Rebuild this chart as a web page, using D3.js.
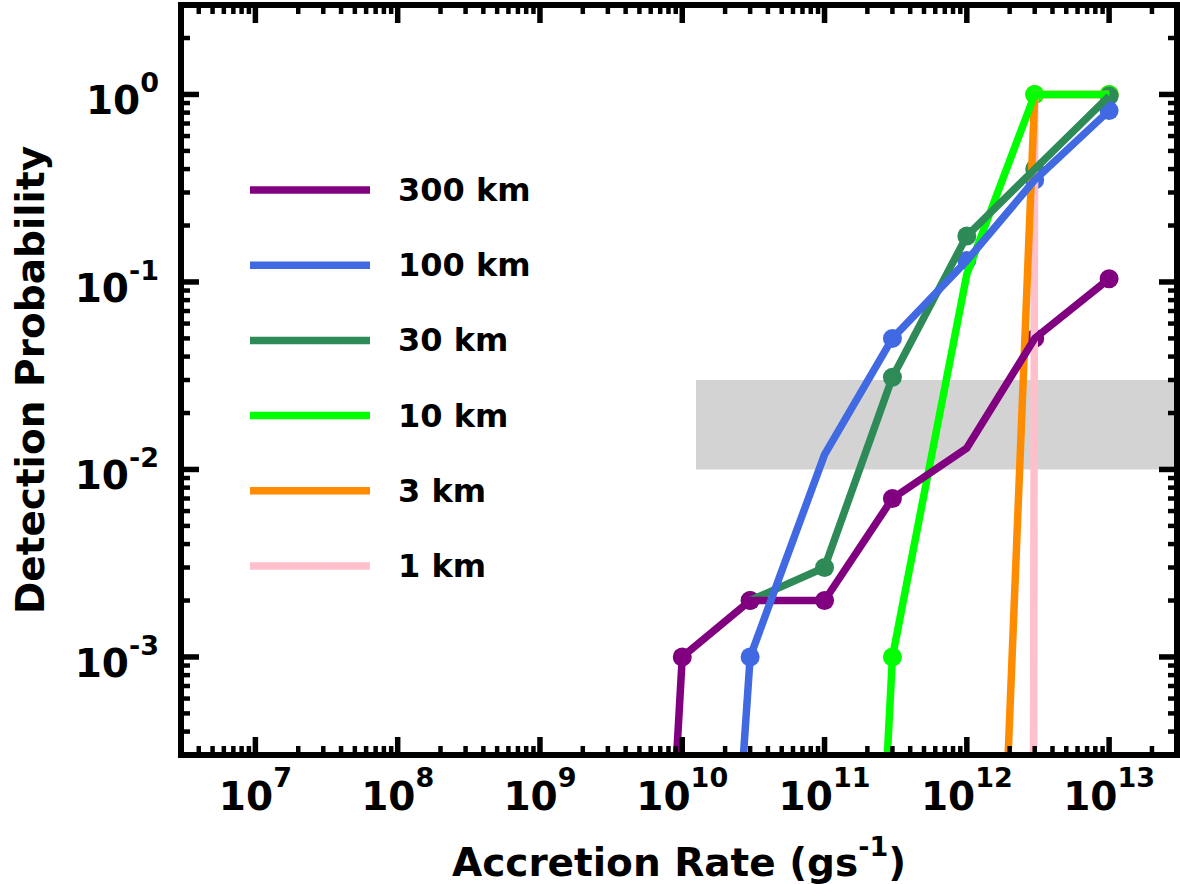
<!DOCTYPE html>
<html>
<head>
<meta charset="utf-8">
<script src="https://cdn.jsdelivr.net/npm/d3@7"></script>
<style>
  html, body { margin: 0; padding: 0; background: #fff; }
  svg { display: block; font-family: "DejaVu Sans", sans-serif; font-weight: bold; }
</style>
</head>
<body>
<svg id="chart" width="1180" height="884"></svg>
<script>
// ---------------- data ----------------
const seriesNames = ["300 km", "100 km", "30 km", "10 km", "3 km", "1 km"];
const seriesColors = ["#800080", "#4169e1", "#2e8b57", "#00ff00", "#ff8c00", "#ffc0cb"];

const x300 = [3e9, 1e10, 3e10, 1e11, 3e11, 1e12, 3e12, 1e13];
const y300 = [1e-10, 1e-3, 2e-3, 2e-3, 7e-3, 1.3e-2, 5e-2, 1.04e-1];
const m300 = [0, 1, 1, 1, 1, 0, 1, 1];

const x100 = [1e10, 3e10, 1e11, 3e11, 1e12, 3e12, 1e13];
const y100 = [5e-9, 1e-3, 1.2e-2, 5e-2, 1.3e-1, 3.5e-1, 8.2e-1];
const m100 = [0, 1, 0, 1, 1, 1, 1];

const x30 = [3e10, 1e11, 3e11, 1e12, 3e12, 1e13];
const y30 = [2e-3, 3e-3, 3.1e-2, 1.76e-1, 4.0e-1, 0.98];
const m30 = [1, 1, 1, 1, 1, 1];

const x10 = [1e11, 3e11, 1e12, 3e12, 1e13];
const y10 = [1e-10, 1e-3, 1.1e-1, 1, 1];
const m10 = [0, 1, 0, 1, 1];

const x3 = [1e12, 3e12, 1e13];
const y3 = [1e-9, 1, 1];
const m3 = [0, 1, 1];

const x1 = [1e12, 3e12, 1e13];
const y1 = [1e-200, 1, 1];
const m1 = [0, 0, 0];

const xTickExps = [7, 8, 9, 10, 11, 12, 13];
const yTickExps = [-3, -2, -1, 0];
const bandX = [1.25e10, 3e13];
const bandY = [0.01, 0.03];

const xLabelMain = "Accretion Rate (gs";
const xLabelSup = "-1";
const yLabel = "Detection Probability";

// ---------------- layout ----------------
const L = 181, R = 1177, T = 5, B = 755;
const svg = d3.select("#chart");

const x = d3.scaleLog().domain([3e6, 3e13]).range([L, R]);
const y = d3.scaleLog().domain([3e-4, 3]).range([B, T]);

svg.append("defs").append("clipPath").attr("id", "clip")
  .append("rect").attr("x", L).attr("y", T).attr("width", R - L).attr("height", B - T);

// gray band
svg.append("rect")
  .attr("x", x(bandX[0])).attr("y", y(bandY[1]))
  .attr("width", x(bandX[1]) - x(bandX[0]))
  .attr("height", y(bandY[0]) - y(bandY[1]))
  .attr("fill", "#d3d3d3");

const series = [
  { xs: x300, ys: y300, ms: m300 },
  { xs: x100, ys: y100, ms: m100 },
  { xs: x30, ys: y30, ms: m30 },
  { xs: x10, ys: y10, ms: m10 },
  { xs: x3, ys: y3, ms: m3 },
  { xs: x1, ys: y1, ms: m1 }
].map((s, i) => ({ ...s, name: seriesNames[i], color: seriesColors[i] }));

// drawing order (bottom to top): 1 km, 3 km, 10 km, 30 km, 300 km, 100 km
const drawOrder = [5, 4, 3, 2, 0, 1];

const plotG = svg.append("g").attr("clip-path", "url(#clip)");
const markerG = plotG.append("g");
const lineG = plotG.append("g");

const lineGen = d3.line().x(d => x(d[0])).y(d => y(d[1]));
const LW = 7.5;

drawOrder.forEach(i => {
  const s = series[i];
  const pts = s.xs.map((xv, k) => [xv, s.ys[k], s.ms[k]]);
  markerG.selectAll(null)
    .data(pts.filter(p => p[2]))
    .enter().append("circle")
    .attr("cx", d => x(d[0])).attr("cy", d => y(d[1]))
    .attr("r", 9.5).attr("fill", s.color);
  lineG.append("path")
    .attr("d", lineGen(pts))
    .attr("fill", "none")
    .attr("stroke", s.color)
    .attr("stroke-width", LW)
    .attr("stroke-linejoin", "round")
    .attr("stroke-linecap", "butt");
});

// ---------------- axes ----------------
const majLen = 18, minLen = 9;
const xMinor = [], yMinor = [];
for (let e = 6; e <= 13; e++) for (let m = 1; m <= 9; m++) {
  const v = m * Math.pow(10, e);
  if (m !== 1 && v >= 3e6 * 0.999 && v <= 3e13 * 1.001) xMinor.push(v);
}
for (let e = -4; e <= 0; e++) for (let m = 1; m <= 9; m++) {
  const v = m * Math.pow(10, e);
  if (m !== 1 && v >= 3e-4 * 0.999 && v <= 3 * 1.001) yMinor.push(v);
}
const xMajor = xTickExps.map(e => Math.pow(10, e));
const yMajor = yTickExps.map(e => Math.pow(10, e));

const tickG = svg.append("g").attr("stroke", "#000");
function xTicks(vals, len, w) {
  vals.forEach(v => {
    const px = x(v);
    tickG.append("line").attr("x1", px).attr("x2", px).attr("y1", B).attr("y2", B - len).attr("stroke-width", w);
    tickG.append("line").attr("x1", px).attr("x2", px).attr("y1", T).attr("y2", T + len).attr("stroke-width", w);
  });
}
function yTicks(vals, len, w) {
  vals.forEach(v => {
    const py = y(v);
    tickG.append("line").attr("y1", py).attr("y2", py).attr("x1", L).attr("x2", L + len).attr("stroke-width", w);
    tickG.append("line").attr("y1", py).attr("y2", py).attr("x1", R).attr("x2", R - len).attr("stroke-width", w);
  });
}
xTicks(xMinor, minLen, 4.5);
yTicks(yMinor, minLen, 4.5);
xTicks(xMajor, majLen, 5.5);
yTicks(yMajor, majLen, 5.5);

// spines
svg.append("rect").attr("x", L).attr("y", T).attr("width", R - L).attr("height", B - T)
  .attr("fill", "none").attr("stroke", "#000").attr("stroke-width", 6);

// tick labels
const fs = 39, sfs = 27;
xTickExps.forEach(e => {
  const t = svg.append("text").attr("x", x(Math.pow(10, e))).attr("y", 810)
    .attr("text-anchor", "middle").attr("font-size", fs);
  t.append("tspan").text("10");
  t.append("tspan").attr("font-size", sfs).attr("dy", -23).text(String(e));
});
yTickExps.forEach(e => {
  const t = svg.append("text").attr("x", 159).attr("y", y(Math.pow(10, e)) + 20)
    .attr("text-anchor", "end").attr("font-size", fs);
  t.append("tspan").text("10");
  t.append("tspan").attr("font-size", sfs).attr("dy", -22).text(String(e));
});

// axis labels
const xl = svg.append("text").attr("x", (L + R) / 2).attr("y", 876)
  .attr("text-anchor", "middle").attr("font-size", fs);
xl.append("tspan").text(xLabelMain);
xl.append("tspan").attr("font-size", sfs).attr("dy", -20).text(xLabelSup);
xl.append("tspan").attr("dy", 20).text(")");

svg.append("text").attr("transform", `translate(44,${(T + B) / 2}) rotate(-90)`)
  .attr("text-anchor", "middle").attr("font-size", fs).text(yLabel);

// legend
const legY0 = 190, legDy = 75.2;
series.forEach((s, i) => {
  const ly = legY0 + i * legDy;
  svg.append("line").attr("x1", 250).attr("x2", 370).attr("y1", ly).attr("y2", ly)
    .attr("stroke", s.color).attr("stroke-width", LW);
  svg.append("text").attr("x", 398).attr("y", ly + 11).attr("font-size", 32).text(s.name);
});
</script>
</body>
</html>
